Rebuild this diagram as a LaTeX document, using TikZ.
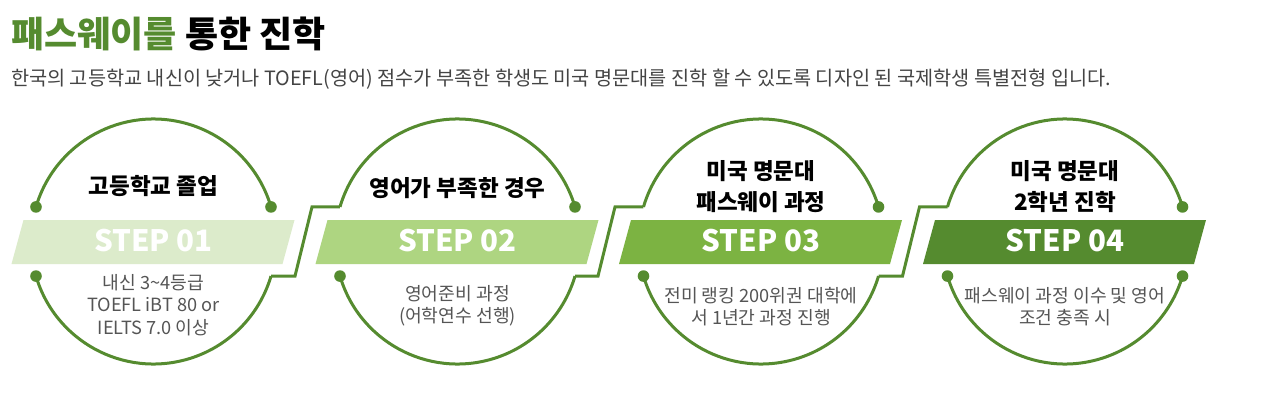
\documentclass[tikz,border=0pt]{standalone}
\usepackage{fontspec}
\setmainfont{Noto Sans CJK KR}
\usetikzlibrary{calc}
\definecolor{gmain}{HTML}{558B2F}
\definecolor{bannerA}{HTML}{DCEBCB}
\definecolor{bannerB}{HTML}{AED581}
\definecolor{bannerC}{HTML}{7CB342}
\definecolor{bannerD}{HTML}{558B2F}
\definecolor{desccol}{HTML}{555555}
\definecolor{subcol}{HTML}{444444}
\tikzset{
  ring/.style={draw=gmain, line width=3pt},
  joint/.style={fill=gmain},
  steptext/.style={text=white, inner sep=0pt, font=\bfseries\fontsize{29.5}{29.5}\selectfont},
  titletext/.style={text=black, inner sep=0pt, align=center, font=\bfseries\fontsize{22.5}{31.5}\selectfont},
  desctext/.style={text=desccol, inner sep=0pt, align=center, font=\fontsize{18.2}{22.5}\selectfont},
}
\begin{document}
\begin{tikzpicture}[x=1pt,y=1pt]
\useasboundingbox[fill=white] (0,0) rectangle (1280,400);
\def\R{122.5}
% circle anchors
\foreach \i/\cx in {1/153.5,2/457.5,3/761,4/1065} {
  \coordinate (c\i) at (\cx,158.5);
  \coordinate (c\i tl) at ($(c\i)+(163.6:\R)$);
  \coordinate (c\i tr) at ($(c\i)+(16.4:\R)$);
  \coordinate (c\i bl) at ($(c\i)+(196.4:\R)$);
  \coordinate (c\i br) at ($(c\i)+(343.6:\R)$);
  \draw[ring] (c\i tl) arc[start angle=163.6, end angle=16.4, radius=\R];
  \draw[ring] (c\i bl) arc[start angle=196.4, end angle=343.6, radius=\R];
}
% connector bends
\coordinate (k1b) at (295,123.92);  \coordinate (k1t) at (312,193.08);
\coordinate (k2b) at (598,123.92);  \coordinate (k2t) at (615,193.08);
\coordinate (k3b) at (902.5,123.92);\coordinate (k3t) at (919.5,193.08);
\draw[ring, line join=miter] (c1br) -- (k1b) -- (k1t) -- (c2tl);
\draw[ring, line join=miter] (c2br) -- (k2b) -- (k2t) -- (c3tl);
\draw[ring, line join=miter] (c3br) -- (k3b) -- (k3t) -- (c4tl);
% dots
\foreach \p in {c1tl,c1bl,c1tr,c2bl,c2tr,c3bl,c3tr,c4bl,c4tr,c4br}
  \fill[joint] (\p) circle[radius=5.8];
% banners
\foreach \i/\col in {1/bannerA,2/bannerB,3/bannerC,4/bannerD} {
  \fill[\col] ($(c\i)+(-142,-22.5)$) -- ($(c\i)+(129,-22.5)$) -- ($(c\i)+(141,21.5)$) -- ($(c\i)+(-130,21.5)$) -- cycle;
  \node[steptext] (s\i) at ($(c\i)+(0,0.5)$) {STEP 0\i};
}
% titles
\node[titletext] (t1) at (153.5,214) {고등학교 졸업};
\node[titletext] (t2) at (457.5,212) {영어가 부족한 경우};
\node[titletext] (t3) at (761,213.3) {미국 명문대\\패스웨이 과정};
\node[titletext] (t4) at (1065,213.3) {미국 명문대\\2학년 진학};
% descriptions
\node[desctext] (d1) at (153.5,95) {내신 3\char`~4등급\\TOEFL iBT 80 or\\IELTS 7.0 이상};
\node[desctext] (d2) at (457.5,94) {영어준비 과정\\(어학연수 선행)};
\node[desctext] (d3) at (761,93.5) {전미 랭킹 200위권 대학에\\서 1년간 과정 진행};
\node[desctext] (d4) at (1065,93.5) {패스웨이 과정 이수 및 영어\\조건 충족 시};
% header
\node[anchor=west, inner sep=0pt, font=\bfseries\fontsize{36}{36}\selectfont] (hdr) at (11,366.5) {\textcolor{gmain}{패스웨이를} 통한 진학};
\node[anchor=west, inner sep=0pt, text=subcol, font=\fontsize{19.7}{19.7}\selectfont] (sub) at (11,321) {한국의 고등학교 내신이 낮거나 TOEFL(영어) 점수가 부족한 학생도 미국 명문대를 진학 할 수 있도록 디자인 된 국제학생 특별전형 입니다.};
\end{tikzpicture}
\end{document}
